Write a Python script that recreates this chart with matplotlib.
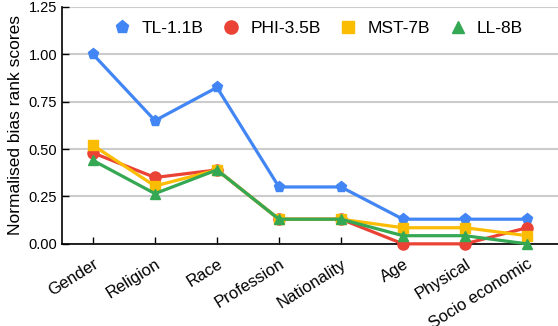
import matplotlib
matplotlib.use("Agg")
import matplotlib.pyplot as plt
from matplotlib.lines import Line2D

categories = ["Gender", "Religion", "Race", "Profession", "Nationality", "Age", "Physical", "Socio economic"]
tl = [1.00, 0.65, 0.825, 0.30, 0.30, 0.13, 0.13, 0.13]
phi = [0.48, 0.35, 0.39, 0.13, 0.13, 0.0, 0.0, 0.085]
mst = [0.52, 0.305, 0.39, 0.13, 0.13, 0.085, 0.085, 0.043]
ll = [0.44, 0.265, 0.39, 0.13, 0.13, 0.043, 0.043, 0.0]
yticks = [0.00, 0.25, 0.50, 0.75, 1.00, 1.25]

plt.rcParams['font.family'] = ['Liberation Sans', 'DejaVu Sans']

fig = plt.figure(figsize=(5.58, 3.26), dpi=100)
ax = fig.add_axes([0.111, 0.252, 0.889, 0.727])

series = [
    ("TL-1.1B", tl, "#4285F4", "p", 8),
    ("PHI-3.5B", phi, "#EA4335", "o", 8),
    ("MST-7B", mst, "#FBBC04", "s", 7),
    ("LL-8B", ll, "#34A853", "^", 7.5),
]
x = list(range(len(categories)))
handles = []
for name, vals, col, mk, ms in series:
    ax.plot(x, vals, color=col, lw=2.3, marker=mk, markersize=ms, zorder=3, clip_on=False)
    handles.append(Line2D([], [], color=col, marker=mk, linestyle='none', markersize=ms + 1.5, label=name))

ax.set_xlim(-0.5, 7.5)
ax.set_ylim(0, 1.25)
ax.set_yticks(yticks)
ax.set_yticklabels([f"{v:.2f}" for v in yticks], fontsize=10.5)
ax.set_xticks(x)
ax.set_xticklabels(categories, rotation=32, ha='right', rotation_mode='anchor', fontsize=12)
ax.tick_params(axis='both', direction='in', length=5, width=1, color='black')
ax.tick_params(axis='x', pad=9)
ax.grid(axis='y', color='#cccccc', lw=1.5, zorder=0)
ax.set_axisbelow(True)
for s in ['top', 'right']:
    ax.spines[s].set_visible(False)
for s in ['left', 'bottom']:
    ax.spines[s].set_linewidth(1.2)
ax.set_ylabel("Normalised bias rank scores", fontsize=12.5, labelpad=4)

ax.legend(handles=handles, loc='center', bbox_to_anchor=(0.515, 0.91), ncol=4, frameon=False,
          fontsize=12.5, handletextpad=0.5, columnspacing=1.0, handlelength=1.2)

fig.savefig("out.png", dpi=100)
